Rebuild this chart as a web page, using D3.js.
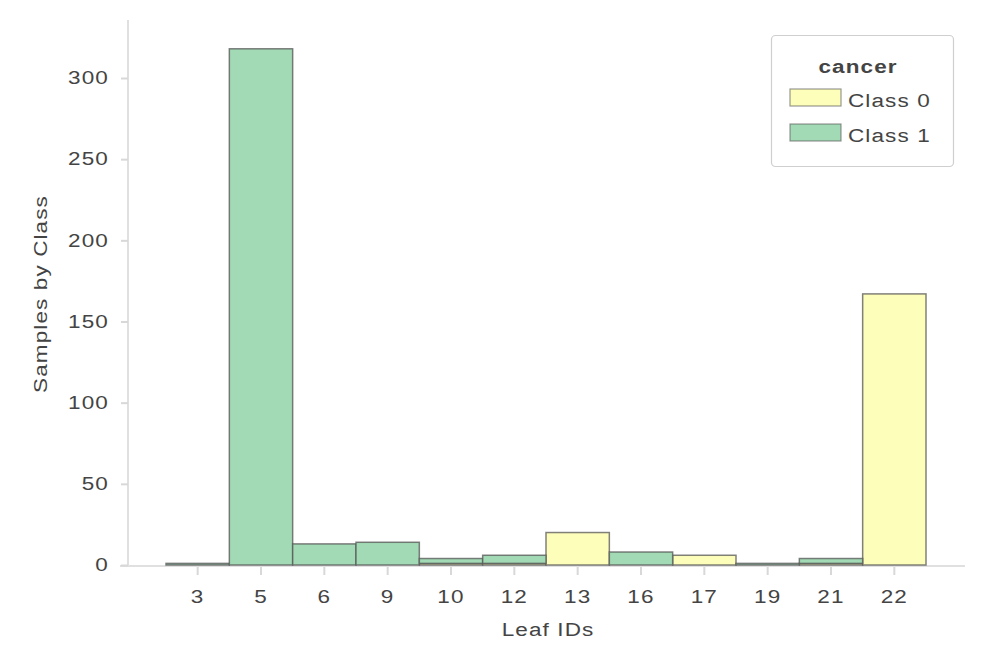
<!DOCTYPE html>
<html>
<head>
<meta charset="utf-8">
<script src="https://cdn.jsdelivr.net/npm/d3@7"></script>
<style>
  body { margin: 0; background: #fff; }
  text { font-family: "Liberation Sans", Arial, Helvetica, sans-serif; }
</style>
</head>
<body>
<svg id="chart" width="994" height="660"></svg>
<script>
const leafIds = ["3", "5", "6", "9", "10", "12", "13", "16", "17", "19", "21", "22"];
const class0 = [0, 0, 0, 0, 1, 1, 20, 0, 6, 0, 1, 167];
const class1 = [1, 318, 13, 14, 3, 5, 0, 8, 0, 1, 3, 0];
const classNames = ["Class 0", "Class 1"];
const classColors = ["#FEFEBB", "#a1dab4"];
const yTicks = [0, 50, 100, 150, 200, 250, 300];
const legendTitle = "cancer";

const FS = "18px";
const LS = "0.9px";
const SX = 1.25;

const svg = d3.select("#chart");
const x = d3.scaleBand().domain(leafIds).range([166, 926]).padding(0);
const y = d3.scaleLinear().domain([0, 300]).range([565, 78]);

const rows = leafIds.map((id, i) => ({ id, c0: class0[i], c1: class1[i] }));
const stack = d3.stack().keys(["c0", "c1"])(rows);

// widen text glyphs horizontally around their anchor point
function stretch(sel, extra) {
  sel.each(function () {
    const t = d3.select(this);
    const tx = +t.attr("x") || 0, ty = +t.attr("y") || 0;
    t.attr("x", null).attr("y", null)
      .attr("transform", `translate(${tx},${ty})${extra || ""} scale(${SX},1)`)
      .style("font-size", FS).style("letter-spacing", LS).attr("fill", "#444");
  });
}

// spines
svg.append("line").attr("x1", 128).attr("x2", 128).attr("y1", 20).attr("y2", 566)
  .attr("stroke", "#e0e0e0").attr("stroke-width", 2);
svg.append("line").attr("x1", 120).attr("x2", 965).attr("y1", 566).attr("y2", 566)
  .attr("stroke", "#e0e0e0").attr("stroke-width", 2);

// y axis
const yAxis = svg.append("g").attr("transform", "translate(128,0)")
  .call(d3.axisLeft(y).tickValues(yTicks).tickSize(7).tickPadding(12));
yAxis.select(".domain").remove();
yAxis.selectAll(".tick line").attr("stroke", "#d8d8d8").attr("stroke-width", 2);
stretch(yAxis.selectAll(".tick text"));

// x axis
const xAxis = svg.append("g").attr("transform", "translate(0,567)")
  .call(d3.axisBottom(x).tickSize(8).tickPadding(15));
xAxis.select(".domain").remove();
xAxis.selectAll(".tick line").attr("stroke", "#d8d8d8").attr("stroke-width", 2);
stretch(xAxis.selectAll(".tick text"));

// bars
stack.forEach((layer, k) => {
  svg.append("g").selectAll("rect").data(layer).join("rect")
    .attr("x", d => x(d.data.id))
    .attr("width", x.bandwidth())
    .attr("y", d => y(d[1]))
    .attr("height", d => Math.max(0, y(d[0]) - y(d[1])))
    .attr("fill", classColors[k])
    .attr("stroke", "#555")
    .attr("stroke-opacity", 0.75)
    .attr("stroke-width", 1.5);
});

// axis titles
stretch(svg.append("text").attr("x", 548).attr("y", 636).attr("text-anchor", "middle").text("Leaf IDs"));
stretch(svg.append("text").attr("x", 47).attr("y", 294).attr("text-anchor", "middle").text("Samples by Class"), " rotate(-90)");

// legend
const lg = svg.append("g");
lg.append("rect").attr("x", 771.5).attr("y", 35.5).attr("width", 182).attr("height", 131)
  .attr("rx", 4).attr("fill", "#fff").attr("stroke", "#cfcfcf").attr("stroke-width", 1.2);
stretch(lg.append("text").attr("x", 858).attr("y", 73).attr("text-anchor", "middle")
  .style("font-weight", "bold").text(legendTitle));
classNames.forEach((name, i) => {
  const yy = 89 + i * 35;
  lg.append("rect").attr("x", 790).attr("y", yy).attr("width", 51).attr("height", 17)
    .attr("fill", classColors[i]).attr("stroke", "#555").attr("stroke-opacity", 0.6).attr("stroke-width", 1.2);
  stretch(lg.append("text").attr("x", 848).attr("y", yy + 18).text(name));
});
</script>
</body>
</html>
